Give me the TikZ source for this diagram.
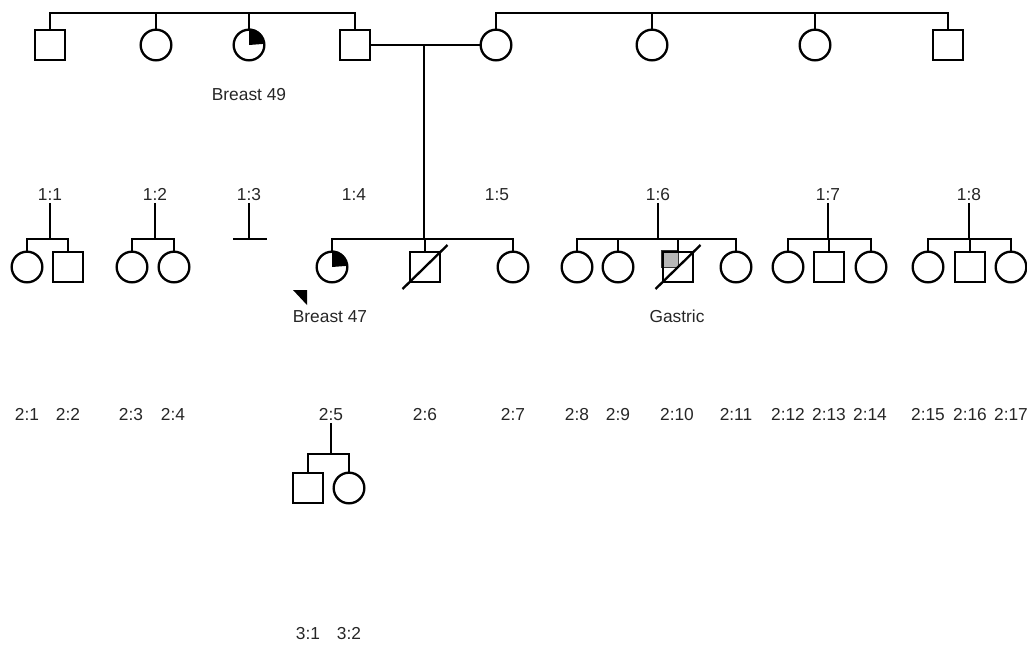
\documentclass[tikz,border=0pt]{standalone}
\usepackage{fontspec}
\setmainfont{Liberation Sans}
\usetikzlibrary{backgrounds,calc}
\begin{document}
\begin{tikzpicture}[x=0.75pt,y=-0.75pt,
  line width=1.75pt,
  male/.style={draw, rectangle, minimum size=22.6pt, inner sep=0pt},
  female/.style={draw, circle, minimum size=23pt, inner sep=0pt},
  lbl/.style={font=\fontsize{13}{15}\selectfont, inner sep=1pt, text height=9.4pt, text depth=0pt, text=black!85},
  affq/.style={fill=black},
  slash/.style={line width=1.75pt},
]
\useasboundingbox (0,0) rectangle (1027,644);

% ---------- generation 0 ----------
\node[male]   (g0a) at (50,45)  {};
\node[female] (g0b) at (156,45) {};
\node[female] (g0c) at (249,45) {};
\node[male]   (g0d) at (355,45) {};
\node[female] (g0e) at (496,45) {};
\node[female] (g0f) at (652,45) {};
\node[female] (g0g) at (815,45) {};
\node[male]   (g0h) at (948,45) {};
\fill[affq] (g0c.center) -- (g0c.north) arc[start angle=90, end angle=0, radius=11.5pt] -- cycle;

\draw (g0a.north) -- (g0a.north |- 0,13) -- (g0d.north |- 0,13) -- (g0d.north);
\draw (g0b.north) -- (g0b.north |- 0,13);
\draw (g0c.north) -- (g0c.north |- 0,13);
\draw (g0e.north) -- (g0e.north |- 0,13) -- (g0h.north |- 0,13) -- (g0h.north);
\draw (g0f.north) -- (g0f.north |- 0,13);
\draw (g0g.north) -- (g0g.north |- 0,13);

\draw (g0d.east) -- (g0e.west);
\coordinate (m) at (424,45);
\coordinate (mb) at (424,239);
\draw (m) -- (mb);

\node[lbl] (t49) at (249,94) {Breast 49};

% ---------- generation 1 labels ----------
\node[lbl] (l11) at (50,194)  {1:1};
\node[lbl] (l12) at (155,194) {1:2};
\node[lbl] (l13) at (249,194) {1:3};
\node[lbl] (l14) at (354,194) {1:4};
\node[lbl] (l15) at (497,194) {1:5};
\node[lbl] (l16) at (658,194) {1:6};
\node[lbl] (l17) at (828,194) {1:7};
\node[lbl] (l18) at (969,194) {1:8};

% ---------- generation 2 ----------
\node[female] (c21)  at (27,267)   {};
\node[male]   (s22)  at (68,267)   {};
\node[female] (c23)  at (132,267)  {};
\node[female] (c24)  at (174,267)  {};
\node[female] (c25)  at (332,267)  {};
\node[male]   (s26)  at (425,267)  {};
\node[female] (c27)  at (513,267)  {};
\node[female] (c28)  at (577,267)  {};
\node[female] (c29)  at (618,267)  {};
\node[male]   (s210) at (678,267)  {};
\node[female] (c211) at (736,267)  {};
\node[female] (c212) at (788,267)  {};
\node[male]   (s213) at (829,267)  {};
\node[female] (c214) at (871,267)  {};
\node[female] (c215) at (928,267)  {};
\node[male]   (s216) at (970,267)  {};
\node[female] (c217) at (1011,267) {};

\fill[affq] (c25.center) -- (c25.north) arc[start angle=90, end angle=0, radius=11.5pt] -- cycle;
\begin{scope}[on background layer]
  \filldraw[fill=black!28, draw=black!80, line width=0.6pt] (s210.center) rectangle (s210.north west);
\end{scope}

% family 1:1
\draw (l11.south) -- (l11.south |- 0,239);
\draw (c21.north) -- (c21.north |- 0,239) -- (s22.north |- 0,239) -- (s22.north);
% family 1:2
\draw (l12.south) -- (l12.south |- 0,239);
\draw (c23.north) -- (c23.north |- 0,239) -- (c24.north |- 0,239) -- (c24.north);
% 1:3
\coordinate (b13a) at (233,239);
\coordinate (b13b) at (267,239);
\draw (l13.south) -- (l13.south |- b13a);
\draw (b13a) -- (b13b);
% main family
\draw (c25.north) -- (c25.north |- mb) -- (c27.north |- mb) -- (c27.north);
\draw (s26.north) -- (s26.north |- mb);
% family 1:6
\draw (l16.south) -- (l16.south |- 0,239);
\draw (c28.north) -- (c28.north |- 0,239) -- (c211.north |- 0,239) -- (c211.north);
\draw (c29.north) -- (c29.north |- 0,239);
\draw (s210.north) -- (s210.north |- 0,239);
% family 1:7
\draw (l17.south) -- (l17.south |- 0,239);
\draw (c212.north) -- (c212.north |- 0,239) -- (c214.north |- 0,239) -- (c214.north);
\draw (s213.north) -- (s213.north |- 0,239);
% family 1:8
\draw (l18.south) -- (l18.south |- 0,239);
\draw (c215.north) -- (c215.north |- 0,239) -- (c217.north |- 0,239) -- (c217.north);
\draw (s216.north) -- (s216.north |- 0,239);

% deceased slashes
\draw[slash] ($(s26.center)+(-22.5,22)$) coordinate (d1a) -- ($(s26.center)+(22.5,-22)$) coordinate (d1b);
\draw[slash] ($(s210.center)+(-22.5,22)$) coordinate (d2a) -- ($(s210.center)+(22.5,-22)$) coordinate (d2b);

% proband marker
\coordinate (pa) at (293,290);
\coordinate (pb) at (307,290);
\coordinate (pc) at (307,305);
\fill (pa) -- (pb) -- (pc) -- cycle;
\node[lbl] (t47) at (330,316) {Breast 47};
\node[lbl] (tga) at (677,316) {Gastric};

% generation 2 labels
\node[lbl] (l21)  at (27,414)   {2:1};
\node[lbl] (l22)  at (68,414)   {2:2};
\node[lbl] (l23)  at (131,414)  {2:3};
\node[lbl] (l24)  at (173,414)  {2:4};
\node[lbl] (l25)  at (331,414)  {2:5};
\node[lbl] (l26)  at (425,414)  {2:6};
\node[lbl] (l27)  at (513,414)  {2:7};
\node[lbl] (l28)  at (577,414)  {2:8};
\node[lbl] (l29)  at (618,414)  {2:9};
\node[lbl] (l210) at (677,414)  {2:10};
\node[lbl] (l211) at (736,414)  {2:11};
\node[lbl] (l212) at (788,414)  {2:12};
\node[lbl] (l213) at (829,414)  {2:13};
\node[lbl] (l214) at (870,414)  {2:14};
\node[lbl] (l215) at (928,414)  {2:15};
\node[lbl] (l216) at (970,414)  {2:16};
\node[lbl] (l217) at (1011,414) {2:17};

% ---------- generation 3 ----------
\node[male]   (s31) at (308,488) {};
\node[female] (c32) at (349,488) {};
\draw (l25.south) -- (l25.south |- 0,454);
\draw (s31.north) -- (s31.north |- 0,454) -- (c32.north |- 0,454) -- (c32.north);
\node[lbl] (l31) at (308,633) {3:1};
\node[lbl] (l32) at (349,633) {3:2};
\end{tikzpicture}
\end{document}
